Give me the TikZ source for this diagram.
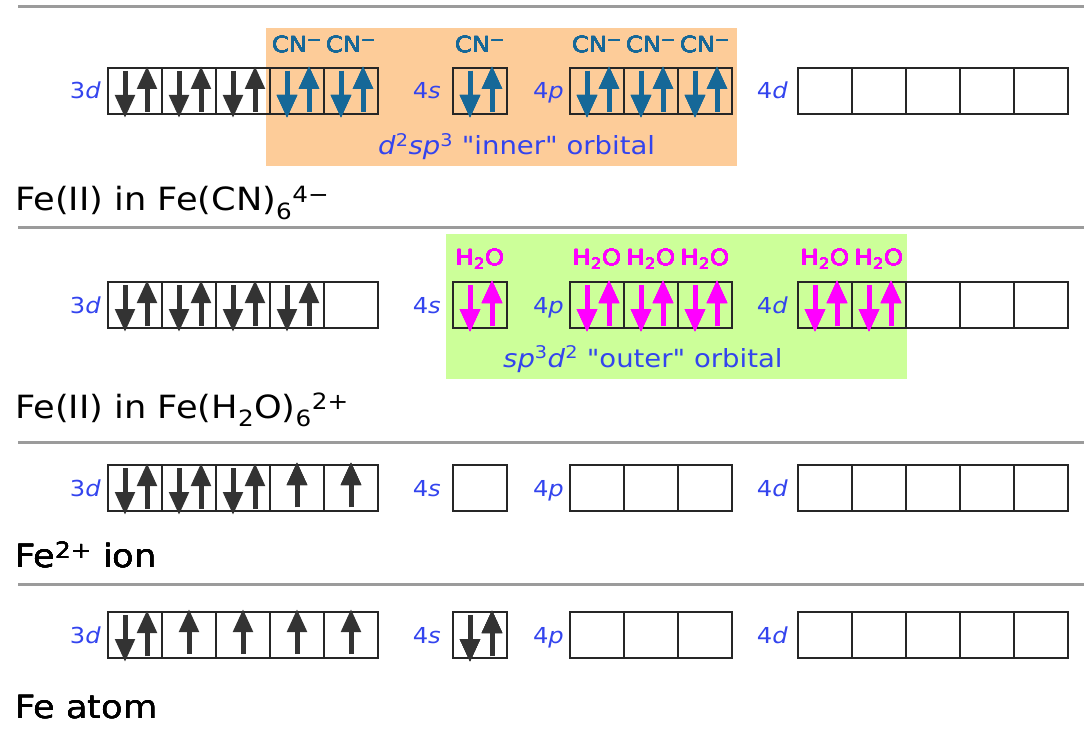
\documentclass[tikz,border=0pt]{standalone}
\usepackage{fontspec}
\setmainfont{DejaVu Sans}[Ligatures=TeXOff, FakeStretch=1.1]
\usetikzlibrary{arrows.meta}

\definecolor{lblblue}{RGB}{51,68,238}
\definecolor{cnblue}{RGB}{22,104,152}
\definecolor{aqua}{RGB}{255,0,255}
\definecolor{innerbg}{RGB}{253,204,153}
\definecolor{outerbg}{RGB}{204,255,153}
\definecolor{spindark}{RGB}{51,51,51}
\definecolor{rulegray}{RGB}{155,155,155}

\tikzset{
  orbbox/.style={draw=black!85, line width=2bp},
  spinarrow/.style={line width=5bp, -{Triangle[width=19bp,length=23bp]}},
  rulerline/.style={draw=rulegray, line width=3bp},
  title/.style={anchor=base west, inner sep=0, font=\fontsize{32bp}{36bp}\selectfont},
  shell/.style={anchor=base east, inner sep=0, text=lblblue, font=\fontsize{22bp}{25bp}\selectfont},
  ligand/.style={anchor=base, inner sep=0, font=\fontsize{22bp}{25bp}\selectfont},
  hybrid/.style={anchor=base west, inner sep=0, text=lblblue, font=\fontsize{25bp}{28bp}\selectfont},
}

% a row of n orbital boxes, left edge x, top edge y
\newcommand\orbrow[3]{%
  \foreach \i in {1,...,#3}
    \draw[orbbox] ({#1+(\i-1)*54},#2) rectangle ++(54,46);}
% paired electrons (down, up) in the box with left edge x, top edge y
\newcommand\spinpair[3]{%
  \draw[spinarrow,#3] ({#1+17},{#2+3}) -- ({#1+17},{#2+50});
  \draw[spinarrow,#3] ({#1+39},{#2+44}) -- ({#1+39},{#2-2});}
% a single unpaired electron (up)
\newcommand\spinsingle[3]{%
  \draw[spinarrow,#3] ({#1+27},{#2+42}) -- ({#1+27},{#2-3});}
% shell labels of one row, box top edge y
\newcommand\shells[1]{%
  \node[shell] at (101,{#1+31}) {3\textit{d}};
  \node[shell] at (441,{#1+31}) {4\textit{s}};
  \node[shell] at (564,{#1+31}) {4\textit{p}};
  \node[shell] at (788,{#1+31}) {4\textit{d}};}
% the four sets of orbitals of one row
\newcommand\orbitals[1]{%
  \orbrow{108}{#1}{5}
  \orbrow{453}{#1}{1}
  \orbrow{570}{#1}{3}
  \orbrow{798}{#1}{5}}

\begin{document}
\begin{tikzpicture}[x=1bp,y=-1bp]
  \useasboundingbox (0,0) rectangle (1084,733);

  % separators
  \draw[rulerline] (18,7) -- (1084,7);
  \draw[rulerline] (18,227) -- (1084,227);
  \draw[rulerline] (18,442) -- (1084,442);
  \draw[rulerline] (18,584) -- (1084,584);

  % ---- Fe(II) in Fe(CN)6 4- : d2sp3 inner orbital ----
  \fill[innerbg] (266,28) rectangle (737,166);
  \orbitals{68}
  \shells{68}
  \foreach \x in {108,162,216} \spinpair{\x}{68}{spindark}
  \foreach \x in {270,324,453,570,624,678} \spinpair{\x}{68}{cnblue}
  \foreach \x in {297,351,480,597,651,705}
    \node[ligand, text=cnblue] at (\x,53) {CN\textsuperscript{−}};
  \node[hybrid] (inner) at (378,155) {\textit{d}\textsuperscript{2}\textit{sp}\textsuperscript{3} "inner" orbital};
  \node[title] (t1) at (15,211) {Fe(II) in Fe(CN)\textsubscript{6}\textsuperscript{4−}};

  % ---- Fe(II) in Fe(H2O)6 2+ : sp3d2 outer orbital ----
  \fill[outerbg] (446,234) rectangle (907,379);
  \orbitals{282}
  \shells{282}
  \foreach \x in {108,162,216,270} \spinpair{\x}{282}{spindark}
  \foreach \x in {453,570,624,678,798,852} \spinpair{\x}{282}{aqua}
  \foreach \x in {480,597,651,705,825,879}
    \node[ligand, text=aqua] at (\x,265) {H\textsubscript{2}O};
  \node[hybrid] (outer) at (503,367) {\textit{sp}\textsuperscript{3}\textit{d}\textsuperscript{2} "outer" orbital};
  \node[title] (t2) at (15,418) {Fe(II) in Fe(H\textsubscript{2}O)\textsubscript{6}\textsuperscript{2+}};

  % ---- Fe2+ ion ----
  \orbitals{465}
  \shells{465}
  \foreach \x in {108,162,216} \spinpair{\x}{465}{spindark}
  \foreach \x in {270,324} \spinsingle{\x}{465}{spindark}
  \node[title] (t3) at (15,567) {Fe\textsuperscript{2+} ion};

  % ---- Fe atom ----
  \orbitals{612}
  \shells{612}
  \spinpair{108}{612}{spindark}
  \foreach \x in {162,216,270,324} \spinsingle{\x}{612}{spindark}
  \spinpair{453}{612}{spindark}
  \node[title] (t4) at (15,718) {Fe atom};
\end{tikzpicture}
\end{document}
